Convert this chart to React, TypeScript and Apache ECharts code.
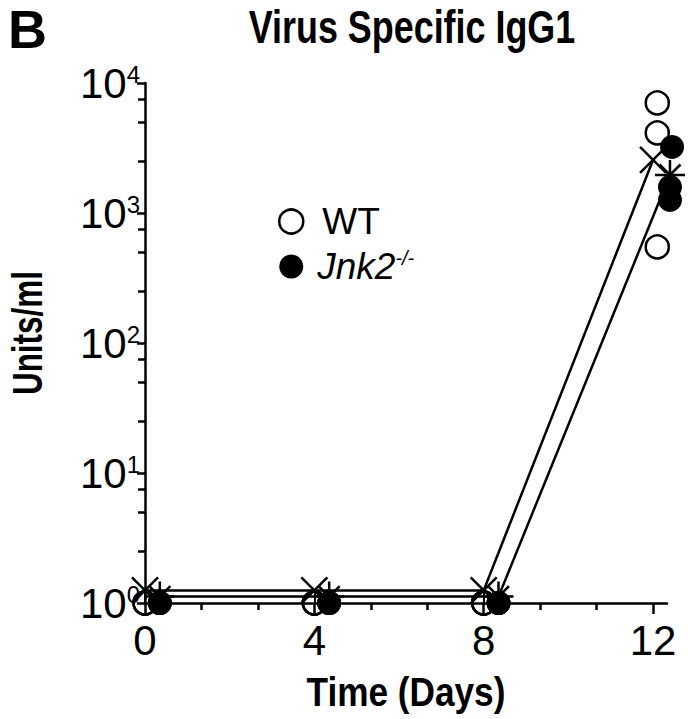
import React, { useEffect, useRef } from "react";
import * as echarts from "echarts";

const xTickDays = [0, 4, 8, 12];
const xCrossDays = [0, 4, 8];
const xMinorDays = [4 / 3, 8 / 3, 16 / 3, 20 / 3, 28 / 3, 32 / 3];
const yTickValues = [1, 10, 100, 1000, 10000];
const yMinorValues = [2.5, 5, 7.5, 25, 50, 75, 250, 500, 750, 2500, 5000, 7500];

// individual animals
const wtPoints = [
  [0, 1], [0, 1], [0, 1],
  [4, 1], [4, 1], [4, 1],
  [8, 1], [8, 1], [8, 1],
  [12.1, 7020], [12.1, 4130], [12.1, 548],
];
const jnkPoints = [
  [0.35, 1], [0.35, 1], [0.35, 1],
  [4.35, 1], [4.35, 1], [4.35, 1],
  [8.35, 1], [8.35, 1], [8.35, 1],
  [12.45, 3220], [12.4, 1585], [12.4, 1260],
];
// group means
const wtMean = [[0, 1.25], [4, 1.25], [8, 1.25], [12, 2560]];
const jnkMean = [[0.35, 1.12], [4.35, 1.12], [8.35, 1.12], [12.4, 1960]];

const X_PATH = "path://M0,0 L10,10 M10,0 L0,10";
const STAR_PATH = "path://M5,0 L5,10 M0,5 L10,5 M1.5,1.5 L8.5,8.5 M8.5,1.5 L1.5,8.5";

export default function App() {
  const ref = useRef<HTMLDivElement>(null);
  useEffect(() => {
    if (!ref.current) return;
    const chart = echarts.init(ref.current, null, { renderer: "svg" });
    const font = "'Liberation Sans', Arial, Helvetica, sans-serif";
    const xMax = 12.33;
    const tickStyle = { color: "#000", width: 2.5 };
    chart.setOption({
      animation: false,
      backgroundColor: "#ffffff",
      textStyle: { fontFamily: font, color: "#000" },
      graphic: [
        {
          type: "text",
          x: 8,
          y: 2,
          style: { text: "B", fontSize: 54, fontWeight: "bold", fontFamily: font, fill: "#000" },
        },
        {
          type: "text",
          x: 412,
          y: 4,
          scaleX: 0.78,
          style: {
            text: "Virus Specific IgG1",
            fontSize: 46,
            fontWeight: "bold",
            fontFamily: font,
            fill: "#000",
            align: "center",
            verticalAlign: "top",
          },
        },
        {
          type: "text",
          x: 406,
          y: 692,
          scaleX: 0.88,
          style: {
            text: "Time (Days)",
            fontSize: 40,
            fontWeight: "bold",
            fontFamily: font,
            fill: "#000",
            align: "center",
            verticalAlign: "middle",
          },
        },
        {
          type: "text",
          x: 27,
          y: 333,
          rotation: Math.PI / 2,
          scaleX: 0.75,
          style: {
            text: "Units/ml",
            fontSize: 42,
            fontWeight: "bold",
            fontFamily: font,
            fill: "#000",
            align: "center",
            verticalAlign: "middle",
          },
        },
      ],
      legend: {
        orient: "vertical",
        left: 273,
        top: 198,
        itemGap: 8,
        itemWidth: 24,
        itemHeight: 24,
        data: [
          { name: "WT", icon: "circle", itemStyle: { color: "#fff", borderColor: "#000", borderWidth: 2.5 } },
          { name: "Jnk2", icon: "circle", itemStyle: { color: "#000", borderColor: "#000", borderWidth: 0 } },
        ],
        formatter: (name: string) => (name === "WT" ? "{n|WT}" : "{i|Jnk2}{s|-/-}"),
        textStyle: {
          color: "#000",
          rich: {
            n: { fontSize: 37, fontFamily: font, color: "#000", padding: [0, 0, 0, 14] },
            i: { fontSize: 37, fontFamily: font, fontStyle: "italic", color: "#000", padding: [0, 0, 0, 9] },
            s: { fontSize: 20, fontFamily: font, fontStyle: "italic", color: "#000", verticalAlign: "top" },
          },
        },
      },
      grid: { left: 145, right: 21, top: 83, bottom: 116, containLabel: false },
      xAxis: [
        {
          type: "value",
          min: 0,
          max: xMax,
          axisLine: { show: true, onZero: false, lineStyle: { color: "#000", width: 2.5 } },
          axisTick: { show: true, customValues: xTickDays, length: 11, lineStyle: tickStyle },
          axisLabel: { customValues: xTickDays, fontSize: 42, color: "#000", margin: 16, fontFamily: font },
          splitLine: { show: false },
        },
        {
          type: "value",
          min: 0,
          max: xMax,
          position: "bottom",
          axisLine: { show: false },
          axisTick: { show: true, customValues: xMinorDays, length: 7, lineStyle: tickStyle },
          axisLabel: { show: false },
          splitLine: { show: false },
        },
        {
          type: "value",
          min: 0,
          max: xMax,
          position: "bottom",
          axisLine: { show: false },
          axisTick: { show: true, inside: true, customValues: xCrossDays, length: 11, lineStyle: { color: "#000", width: 2 } },
          axisLabel: { show: false },
          splitLine: { show: false },
        },
      ],
      yAxis: [
        {
          type: "log",
          logBase: 10,
          min: 1,
          max: 10000,
          axisLine: { show: true, onZero: false, lineStyle: { color: "#000", width: 2.5 } },
          axisTick: { show: true, customValues: yTickValues, length: 8, lineStyle: tickStyle },
          axisLabel: {
            customValues: yTickValues,
            margin: 5,
            formatter: (v: number) => "{b|10}{s|" + Math.round(Math.log10(v)) + "}",
            rich: {
              b: { fontSize: 42, fontFamily: font, color: "#000" },
              s: { fontSize: 24, fontFamily: font, color: "#000", verticalAlign: "top" },
            },
          },
          splitLine: { show: false },
        },
        {
          type: "log",
          logBase: 10,
          min: 1,
          max: 10000,
          position: "left",
          axisLine: { show: false },
          axisTick: { show: true, customValues: yMinorValues, length: 7, lineStyle: tickStyle },
          axisLabel: { show: false },
          splitLine: { show: false },
        },
      ],
      series: [
        {
          name: "WT mean",
          type: "line",
          clip: false,
          data: wtMean,
          symbol: X_PATH,
          symbolSize: 26,
          lineStyle: { color: "#000", width: 2.5 },
          itemStyle: { color: "rgba(0,0,0,0)", borderColor: "#000", borderWidth: 2.5 },
          z: 2,
        },
        {
          name: "Jnk2 mean",
          type: "line",
          clip: false,
          data: jnkMean,
          symbol: STAR_PATH,
          symbolSize: 30,
          lineStyle: { color: "#000", width: 2.5 },
          itemStyle: { color: "rgba(0,0,0,0)", borderColor: "#000", borderWidth: 2.5 },
          z: 2,
        },
        {
          name: "WT",
          type: "scatter",
          clip: false,
          data: wtPoints,
          symbol: "circle",
          symbolSize: 23,
          itemStyle: { color: "rgba(255,255,255,0)", borderColor: "#000", borderWidth: 2.5, opacity: 1 },
          z: 3,
        },
        {
          name: "Jnk2",
          type: "scatter",
          clip: false,
          data: jnkPoints,
          symbol: "circle",
          symbolSize: 24,
          itemStyle: { color: "#000", borderColor: "#000", borderWidth: 0, opacity: 1 },
          z: 4,
        },
      ],
    });
    return () => chart.dispose();
  }, []);
  return <div ref={ref} style={{ width: 688, height: 719, position: "absolute", left: 0, top: 0 }} />;
}
